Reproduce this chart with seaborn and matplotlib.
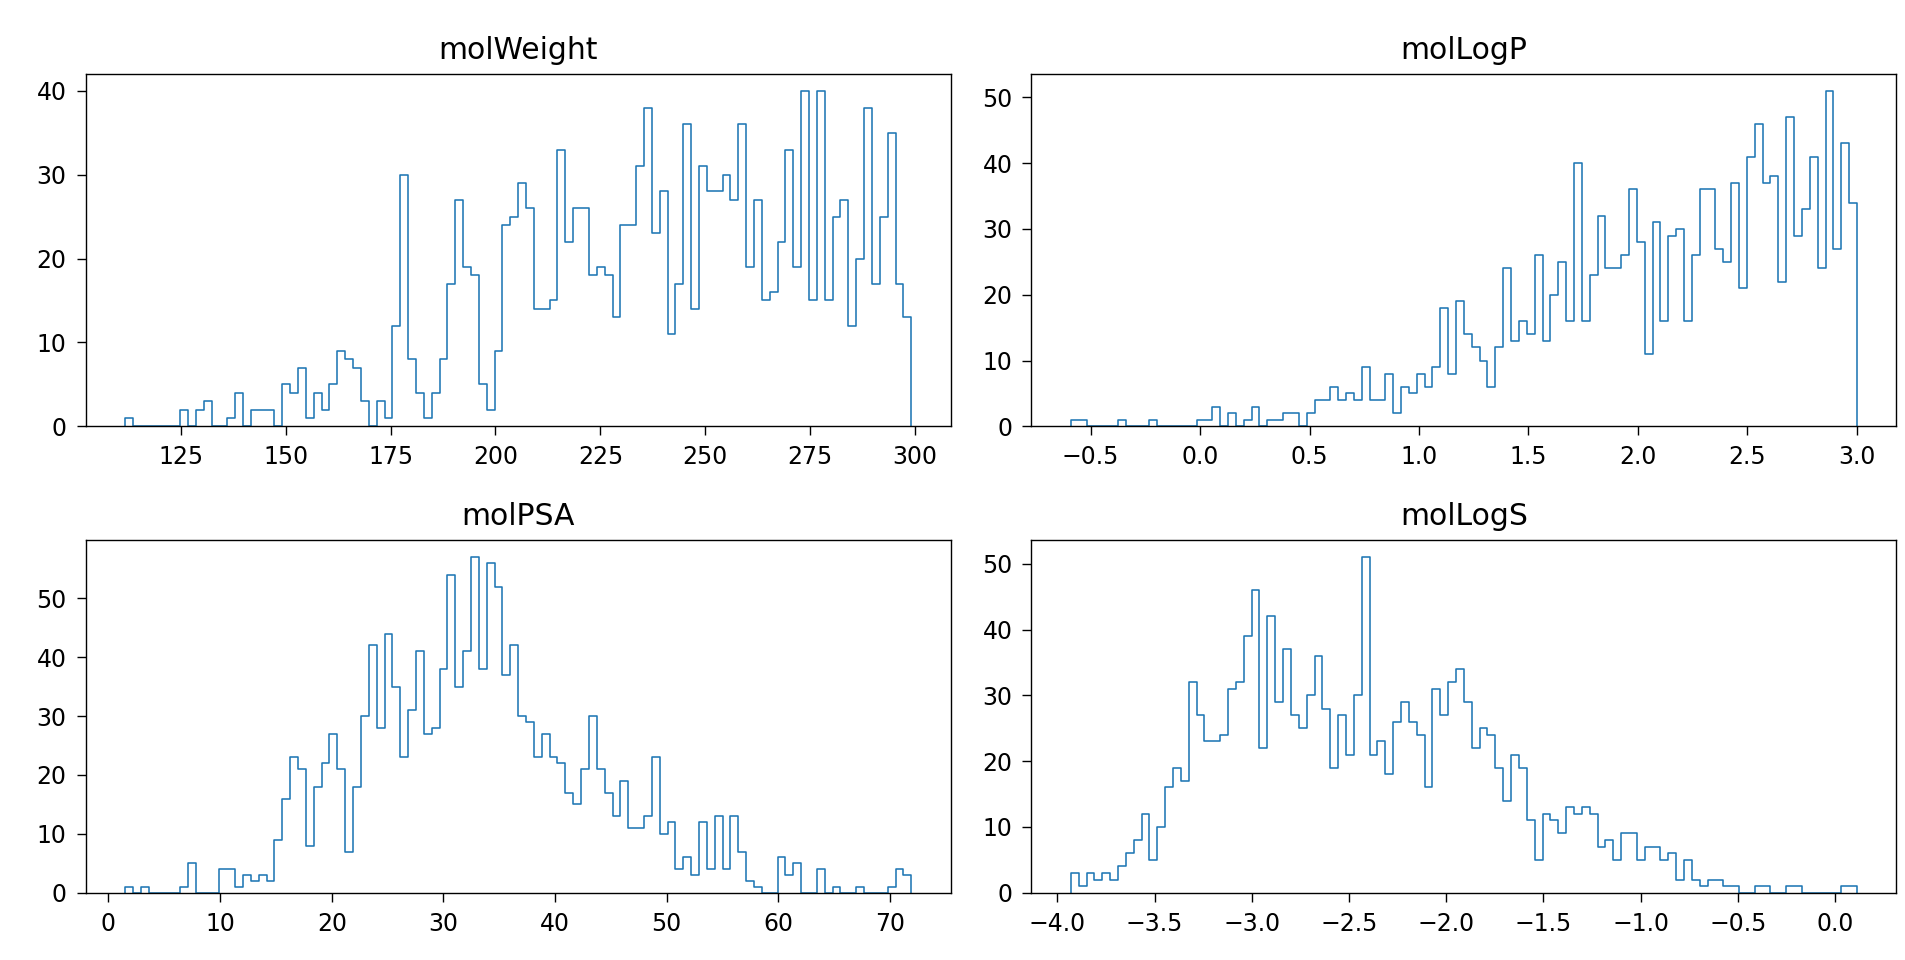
import numpy as np
import pandas as pd
import matplotlib
matplotlib.use("Agg")
import matplotlib.pyplot as plt
import seaborn as sns

# ---------------- data (bin counts, 100 bins each) ----------------
titles = ["molWeight", "molLogP", "molPSA", "molLogS"]

mw_range = (111.75, 299.05)
mw_counts = [1, 0, 0, 0, 0, 0, 0, 2, 0, 2, 3, 0, 0, 1, 4, 0, 2, 2, 2, 0,
             5, 4, 7, 1, 4, 2, 5, 9, 8, 7, 3, 0, 3, 1, 12, 30, 8, 4, 1, 4,
             8, 17, 27, 19, 18, 5, 2, 9, 24, 25, 29, 26, 14, 14, 15, 33, 22, 26, 26, 18,
             19, 18, 13, 24, 24, 31, 38, 23, 28, 11, 17, 36, 14, 31, 28, 28, 30, 27, 36, 19,
             27, 15, 16, 22, 33, 19, 40, 15, 40, 15, 25, 27, 12, 20, 38, 17, 25, 35, 17, 13]

logp_range = (-0.59, 3.0)
logp_counts = [1, 1, 0, 0, 0, 0, 1, 0, 0, 0, 1, 0, 0, 0, 0, 0, 1, 1, 3, 0,
               2, 0, 1, 3, 0, 1, 1, 2, 2, 0, 2, 4, 4, 6, 4, 5, 4, 9, 4, 4,
               8, 2, 6, 5, 8, 6, 9, 18, 8, 19, 14, 12, 10, 6, 12, 24, 13, 16, 14, 26,
               13, 20, 25, 16, 40, 16, 23, 32, 24, 24, 26, 36, 28, 11, 31, 16, 29, 30, 16, 26,
               36, 36, 27, 25, 37, 21, 41, 46, 37, 38, 22, 47, 29, 33, 41, 24, 51, 27, 43, 34]

psa_range = (1.49, 71.9)
psa_counts = [1, 0, 1, 0, 0, 0, 0, 1, 5, 0, 0, 0, 4, 4, 1, 3, 2, 3, 2, 9,
              16, 23, 21, 8, 18, 22, 27, 21, 7, 18, 30, 42, 28, 44, 35, 23, 31, 41, 27, 28,
              38, 54, 35, 41, 57, 38, 56, 52, 37, 42, 30, 29, 23, 27, 23, 22, 17, 15, 21, 30,
              21, 17, 13, 19, 11, 11, 13, 23, 10, 12, 4, 6, 3, 12, 4, 13, 4, 13, 7, 2,
              1, 0, 0, 6, 3, 5, 0, 0, 4, 0, 1, 0, 0, 1, 0, 0, 0, 1, 4, 3]

logs_range = (-3.931, 0.113)
logs_counts = [3, 1, 3, 2, 3, 2, 4, 6, 8, 12, 5, 10, 16, 19, 17, 32, 27, 23, 23, 24,
               31, 32, 39, 46, 22, 42, 29, 37, 27, 25, 30, 36, 28, 19, 27, 21, 30, 51, 21, 23,
               18, 26, 29, 26, 24, 16, 31, 27, 32, 34, 29, 22, 25, 24, 19, 14, 21, 19, 11, 5,
               12, 11, 9, 13, 12, 13, 12, 7, 8, 5, 9, 9, 5, 7, 7, 5, 6, 2, 5, 2,
               1, 2, 2, 1, 1, 0, 0, 1, 1, 0, 0, 1, 1, 0, 0, 0, 0, 0, 1, 1]

mw_xticks = [125, 150, 175, 200, 225, 250, 275, 300]
logp_xticks = [-0.5, 0.0, 0.5, 1.0, 1.5, 2.0, 2.5, 3.0]
psa_xticks = [0, 10, 20, 30, 40, 50, 60, 70]
logs_xticks = [-4.0, -3.5, -3.0, -2.5, -2.0, -1.5, -1.0, -0.5, 0.0]
mw_yticks = [0, 10, 20, 30, 40]
logp_yticks = [0, 10, 20, 30, 40, 50]
psa_yticks = [0, 10, 20, 30, 40, 50]
logs_yticks = [0, 10, 20, 30, 40, 50]

# ---------------- figure ----------------
LINE_COLOR = "#1f77b4"

fig, axes = plt.subplots(2, 2, figsize=(19.06, 9.6), dpi=100)
fig.subplots_adjust(left=0.045, right=0.9949, top=0.9229, bottom=0.0701,
                    wspace=0.0936, hspace=0.324)


def draw(ax, counts, rng, title, xticks, yticks):
    counts = np.asarray(counts, dtype=float)
    lo, hi = rng
    edges = np.linspace(lo, hi, len(counts) + 1)
    centers = (edges[:-1] + edges[1:]) / 2
    df = pd.DataFrame({"value": centers, "count": counts})
    sns.histplot(data=df, x="value", weights="count", bins=list(edges),
                 element="step", fill=False, color=LINE_COLOR, linewidth=1.15, ax=ax)
    # close the outline down to the baseline at both ends (like histtype='step')
    line = ax.lines[-1]
    x, y = line.get_data()
    line.set_data(np.r_[x[0], x, x[-1]], np.r_[0.0, y, 0.0])
    span = hi - lo
    ax.set_xlim(lo - 0.05 * span, hi + 0.05 * span)
    ax.set_ylim(0, counts.max() * 1.05)
    ax.set_xticks(xticks)
    ax.set_yticks(yticks)
    ax.set_title(title, fontsize=21.5, pad=11)
    ax.set_xlabel("")
    ax.set_ylabel("")
    ax.tick_params(labelsize=17, length=6.7, width=1.0, pad=7, colors="black")
    for s in ax.spines.values():
        s.set_linewidth(1.0)
        s.set_color("black")


draw(axes[0, 0], mw_counts, mw_range, titles[0], mw_xticks, mw_yticks)
draw(axes[0, 1], logp_counts, logp_range, titles[1], logp_xticks, logp_yticks)
draw(axes[1, 0], psa_counts, psa_range, titles[2], psa_xticks, psa_yticks)
draw(axes[1, 1], logs_counts, logs_range, titles[3], logs_xticks, logs_yticks)

fig.savefig("out.png", dpi=100)
